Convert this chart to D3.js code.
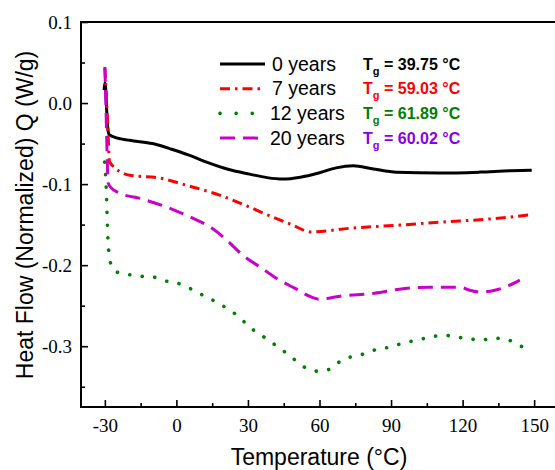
<!DOCTYPE html>
<html><head><meta charset="utf-8">
<script src="https://d3js.org/d3.v7.min.js"></script>
<style>body{margin:0;background:#fff}svg{display:block}</style>
</head><body>
<script>
// ---- data (temperature °C, heat flow W/g) ----
const series0 = [[-30.3,0.016],[-30.0,0.025],[-29.7,0.02],[-29.3,-0.005],[-28.8,-0.03],[-28.2,-0.039],[-26,-0.042],[-19.6,-0.046],[-10,-0.050],[-2,-0.057],[5,-0.064],[11.8,-0.072],[22,-0.082],[30.7,-0.0877],[38,-0.092],[44.6,-0.0938],[52,-0.0915],[60,-0.086],[67,-0.080],[74.2,-0.0775],[82,-0.081],[92.4,-0.0855],[110.4,-0.0864],[127.2,-0.0852],[140,-0.0835],[149,-0.0828]];
const series7 = [[-30,0.043],[-29.7,0.028],[-28.9,-0.021],[-28.0,-0.073],[-19.6,-0.089],[-7,-0.0926],[5.5,-0.1025],[18.1,-0.1136],[30.7,-0.1284],[39,-0.139],[47.5,-0.149],[56.7,-0.159],[72.7,-0.1545],[93.6,-0.1506],[110.4,-0.147],[131.4,-0.143],[148.2,-0.138]];
const series12 = [[-30.1,-0.0728],[-29.3,-0.1148],[-28.9,-0.1543],[-28.4,-0.1815],[-28.0,-0.1926],[-25.9,-0.2074],[-20.9,-0.2111],[-15.4,-0.2136],[-9.6,-0.2148],[-4.1,-0.2198],[-1.2,-0.221],[3.9,-0.226],[8.5,-0.2333],[12.7,-0.2395],[16.9,-0.2457],[21.1,-0.2531],[24.8,-0.2605],[28.6,-0.2704],[32.4,-0.2802],[36.2,-0.2877],[39.9,-0.2951],[43.7,-0.3037],[47.5,-0.3111],[51.7,-0.3222],[57.1,-0.3296],[59.2,-0.3309],[64.3,-0.3284],[69.3,-0.3173],[74.3,-0.3123],[79.8,-0.3086],[84.0,-0.3037],[89.5,-0.3012],[94.9,-0.2963],[100.8,-0.2926],[106.2,-0.2889],[112.1,-0.2864],[117.6,-0.2889],[121.8,-0.2901],[127.2,-0.2926],[133.1,-0.2901],[138.5,-0.2914],[143.2,-0.2988],[148.2,-0.3025]];
const series20 = [[-30,0.0444],[-29.7,0.016],[-29.3,-0.0333],[-28.6,-0.0988],[-27.2,-0.105],[-24.7,-0.1099],[-14.2,-0.1185],[-4.1,-0.1284],[0.1,-0.1333],[6.8,-0.142],[14.8,-0.1543],[21.1,-0.1691],[27.8,-0.1877],[35.8,-0.2037],[42.5,-0.2173],[49.6,-0.2284],[56.7,-0.2395],[60.1,-0.242],[68.5,-0.2383],[83.2,-0.2346],[93.6,-0.2296],[106.2,-0.2272],[118.8,-0.2272],[123.0,-0.2309],[127.2,-0.2333],[133.5,-0.2309],[139.8,-0.2247],[144.0,-0.2185]];
const seriesNames = ["0 years","7 years","12 years","20 years"];
const tgValues = ["39.75","59.03","61.89","60.02"];
const xTicks = [-30,0,30,60,90,120,150];
const xMinor = [-15,15,45,75,105,135];
const yTicks = [0.1,0.0,-0.1,-0.2,-0.3];
const yMinor = [0.05,-0.05,-0.15,-0.25,-0.35];

const W=555,H=470;
const svg=d3.select("body").append("svg").attr("width",W).attr("height",H);
const x=d3.scaleLinear().domain([-40,160]).range([81,558]);
const y=d3.scaleLinear().domain([-0.375,0.1]).range([407,22]);

const styles=[
 {color:"#000000",dash:null,width:3,cap:"butt",tg:"#000000"},
 {color:"#ff0000",dash:"10,5,2.5,5",width:3,cap:"butt",tg:"#ff0000"},
 {color:"#008000",dash:"0.1,12.5",width:3.6,cap:"round",tg:"#008000"},
 {color:"#cc00cc",dash:"15,8",width:3,cap:"butt",tg:"#8a00e6"}
];
const data=[series0,series7,series12,series20];

const serif="'Liberation Serif','Times New Roman',serif";
const sans="'Liberation Sans',Arial,sans-serif";
const fmt=d=>d3.format(".1f")(d).replace("\u2212","-");

// minor ticks
const gx=svg.append("g").attr("transform","translate(0,407)");
gx.call(d3.axisBottom(x).tickValues(xMinor).tickSize(-4).tickFormat(""));
gx.call(g=>g.select(".domain").remove());
const gx2=svg.append("g").attr("transform","translate(0,407)");
gx2.call(d3.axisBottom(x).tickValues(xTicks).tickSizeInner(-7).tickSizeOuter(0).tickPadding(11.5).tickFormat(d=>d3.format("d")(d).replace("\u2212","-")));
gx2.selectAll("text").attr("font-family",serif).attr("font-size",19).attr("fill","#000");
gx2.select(".domain").remove();

const gy=svg.append("g").attr("transform","translate(81,0)");
gy.call(d3.axisLeft(y).tickValues(yMinor).tickSize(-4).tickFormat(""));
gy.call(g=>g.select(".domain").remove());
const gy2=svg.append("g").attr("transform","translate(81,0)");
gy2.call(d3.axisLeft(y).tickValues(yTicks).tickSizeInner(-7).tickSizeOuter(0).tickPadding(9).tickFormat(fmt));
gy2.selectAll("text").attr("font-family",serif).attr("font-size",19).attr("fill","#000");
gy2.select(".domain").remove();
svg.selectAll(".tick line").attr("stroke","#000").attr("stroke-width",1.6);

// frame
svg.append("rect").attr("x",x(-40)).attr("y",y(0.1)).attr("width",x(160)-x(-40)).attr("height",y(-0.375)-y(0.1))
 .attr("fill","none").attr("stroke","#000").attr("stroke-width",2);

// lines
const line=d3.line().x(d=>x(d[0])).y(d=>y(d[1])).curve(d3.curveMonotoneX);
data.forEach((s,i)=>{
  const st=styles[i];
  svg.append("path").datum(s).attr("d",line).attr("fill","none")
   .attr("stroke",st.color).attr("stroke-width",st.width).attr("stroke-linecap",st.cap)
   .attr("stroke-linejoin","round").attr("stroke-dasharray",st.dash);
});

// legend
const lg=svg.append("g");
seriesNames.forEach((n,i)=>{
  const st=styles[i];
  const yy=64+i*24.7;
  lg.append("line").attr("x1",220).attr("x2",265).attr("y1",yy).attr("y2",yy)
   .attr("stroke",st.color).attr("stroke-width",st.width).attr("stroke-linecap",st.cap)
   .attr("stroke-dasharray",i===2?"0.1,16":st.dash);
  lg.append("text").attr("x",i<2?272:270).attr("y",yy+6.5).attr("font-family",sans).attr("font-size",19.5)
   .attr("fill","#000").text(n);
  const t=lg.append("text").attr("x",363).attr("y",yy+5.5).attr("font-family",sans).attr("font-size",16)
   .attr("font-weight","bold").attr("fill",st.tg);
  t.append("tspan").text("T");
  t.append("tspan").attr("font-size",11).attr("dy",5).text("g");
  t.append("tspan").attr("dy",-5).text(" = "+tgValues[i]+" \u00B0C");
});

// axis titles
svg.append("text").attr("x",319).attr("y",465).attr("text-anchor","middle").attr("font-family",sans)
 .attr("font-size",23).attr("fill","#000").text("Temperature (\u00B0C)");
svg.append("text").attr("transform","translate(33,215) rotate(-90)").attr("text-anchor","middle")
 .attr("font-family",sans).attr("font-size",23).attr("fill","#000").text("Heat Flow (Normalized) Q (W/g)");
</script>
</body></html>
